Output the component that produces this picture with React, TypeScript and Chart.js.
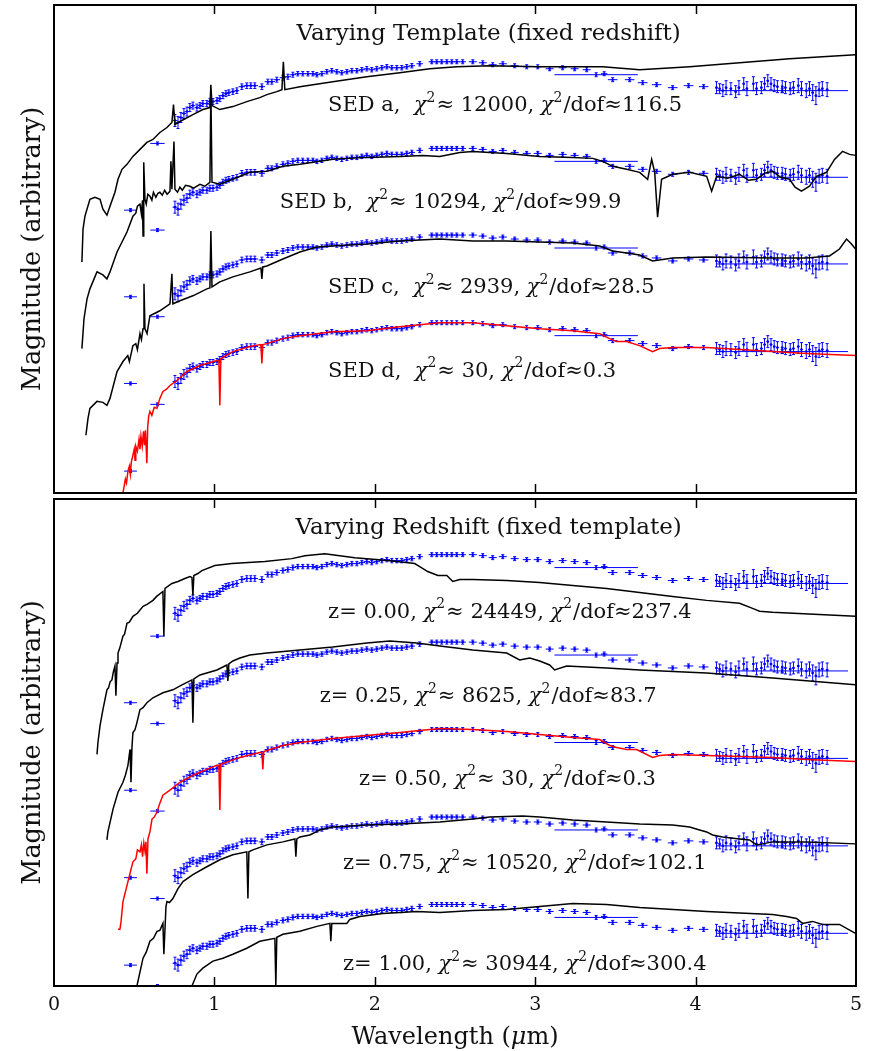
import React, { useEffect, useRef } from 'react';
import { Chart, registerables } from 'chart.js';

Chart.register(...registerables);

const FONT = '"DejaVu Serif", "Liberation Serif", serif';
const BLUE = '#0000ff';
const X_TICK_VALUES = [1, 2, 3, 4];

// Observed photometry: [wavelength (µm), relative magnitude, x error, y error]
const OBSERVED: number[][] = [
  [0.477, 15.0, 0.04, 0.15], [0.645, 8.3, 0.045, 0.15],
  [0.754, 6.0, 0.015, 0.6], [0.773, 6.2, 0.015, 0.6], [0.791, 5.7, 0.015, 0.5], [0.81, 5.3, 0.015, 0.5],
  [0.829, 5.1, 0.015, 0.45], [0.847, 4.7, 0.015, 0.4], [0.866, 4.5, 0.015, 0.35], [0.891, 4.7, 0.015, 0.35],
  [0.91, 4.5, 0.015, 0.3], [0.928, 4.3, 0.015, 0.3], [0.953, 4.3, 0.015, 0.3], [0.972, 4.1, 0.015, 0.3],
  [0.991, 4.1, 0.015, 0.3], [1.016, 4.0, 0.015, 0.3], [1.034, 3.8, 0.015, 0.3], [1.053, 3.5, 0.015, 0.3],
  [1.072, 3.3, 0.015, 0.3], [1.09, 3.2, 0.015, 0.28], [1.115, 3.1, 0.015, 0.28], [1.14, 3.0, 0.015, 0.28],
  [1.171, 2.6, 0.02, 0.28], [1.202, 2.5, 0.02, 0.28], [1.227, 2.5, 0.02, 0.28], [1.252, 2.5, 0.02, 0.28],
  [1.296, 2.6, 0.02, 0.28], [1.333, 2.1, 0.02, 0.25], [1.358, 2.1, 0.02, 0.25], [1.389, 1.9, 0.02, 0.25],
  [1.427, 1.7, 0.02, 0.25], [1.458, 1.6, 0.02, 0.25], [1.489, 1.4, 0.02, 0.25], [1.52, 1.3, 0.02, 0.22],
  [1.551, 1.3, 0.02, 0.22], [1.583, 1.3, 0.02, 0.22], [1.614, 1.3, 0.02, 0.22], [1.639, 1.4, 0.02, 0.22],
  [1.67, 1.3, 0.02, 0.22], [1.701, 1.1, 0.02, 0.22], [1.732, 1.0, 0.02, 0.22], [1.763, 1.1, 0.02, 0.22],
  [1.794, 1.2, 0.02, 0.22], [1.826, 1.1, 0.02, 0.22], [1.857, 1.0, 0.02, 0.22], [1.888, 1.0, 0.02, 0.22],
  [1.919, 0.9, 0.02, 0.22], [1.95, 0.8, 0.02, 0.22], [1.981, 0.9, 0.02, 0.22], [2.012, 0.8, 0.02, 0.22],
  [2.044, 0.7, 0.02, 0.22], [2.075, 0.6, 0.02, 0.22], [2.106, 0.7, 0.02, 0.22], [2.137, 0.7, 0.02, 0.22],
  [2.168, 0.7, 0.02, 0.22], [2.199, 0.6, 0.02, 0.22], [2.231, 0.5, 0.02, 0.22], [2.28, 0.3, 0.02, 0.22],
  [2.355, 0.1, 0.02, 0.2], [2.386, 0.1, 0.02, 0.2], [2.417, 0.1, 0.02, 0.2], [2.449, 0.1, 0.02, 0.2],
  [2.48, 0.1, 0.02, 0.2], [2.511, 0.1, 0.02, 0.2], [2.548, 0.1, 0.02, 0.2], [2.611, 0.1, 0.025, 0.2],
  [2.673, 0.2, 0.025, 0.2], [2.735, 0.4, 0.025, 0.2], [2.798, 0.3, 0.025, 0.2], [2.872, 0.5, 0.025, 0.2],
  [2.947, 0.6, 0.025, 0.2], [3.016, 0.6, 0.025, 0.2], [3.09, 0.8, 0.025, 0.2], [3.171, 0.7, 0.025, 0.2],
  [3.246, 0.8, 0.025, 0.2], [3.321, 0.9, 0.025, 0.2], [3.38, 1.4, 0.26, 0.2], [3.43, 1.3, 0.02, 0.2],
  [3.483, 1.9, 0.03, 0.2], [3.589, 1.9, 0.03, 0.2], [3.67, 2.2, 0.03, 0.2], [3.757, 2.4, 0.03, 0.2],
  [3.857, 2.7, 0.03, 0.2], [3.956, 2.5, 0.03, 0.2], [4.05, 2.6, 0.03, 0.2], [4.54, 3.0, 0.41, 0.2],
  [4.13, 2.7, 0.008, 0.6], [4.15, 2.8, 0.008, 0.5], [4.17, 3.0, 0.008, 0.6], [4.19, 2.7, 0.008, 0.7],
  [4.22, 2.8, 0.008, 0.6], [4.25, 3.1, 0.008, 0.6], [4.27, 2.7, 0.008, 0.7], [4.3, 2.3, 0.008, 0.6],
  [4.32, 2.8, 0.008, 0.7], [4.36, 2.3, 0.008, 0.7], [4.38, 2.8, 0.008, 0.6], [4.41, 2.7, 0.008, 0.6],
  [4.43, 2.3, 0.008, 0.6], [4.45, 2.0, 0.008, 0.6], [4.47, 2.3, 0.008, 0.6], [4.49, 2.5, 0.008, 0.6],
  [4.51, 2.6, 0.008, 0.6], [4.54, 2.6, 0.008, 0.6], [4.56, 2.7, 0.008, 0.6], [4.59, 2.8, 0.008, 0.6],
  [4.61, 2.7, 0.008, 0.6], [4.64, 2.5, 0.008, 0.7], [4.66, 2.8, 0.008, 0.7], [4.69, 3.0, 0.008, 0.7],
  [4.71, 2.8, 0.008, 0.7], [4.73, 3.2, 0.008, 0.8], [4.75, 3.5, 0.008, 0.9], [4.77, 2.9, 0.008, 0.7],
  [4.79, 2.8, 0.008, 0.7], [4.82, 2.9, 0.008, 0.7],
];

// Normalisation of the observed points for each template / redshift
const TOP_OFFSETS = [5.6, 14.3, 23.0, 31.8];
const BOTTOM_OFFSETS = [5.5, 14.3, 23.1, 31.9, 40.7];

// Model spectra: [wavelength (µm), magnitude]
const SED_A: number[][] = [
  [0.174, 25.8], [0.181, 22.5], [0.193, 21.2], [0.224, 19.5], [0.255, 19.3], [0.287, 19.5], [0.305, 20.5],
  [0.33, 21.1], [0.349, 20.2], [0.38, 18.8], [0.399, 17.5], [0.424, 16.5], [0.455, 16.0], [0.492, 15.2],
  [0.536, 14.5], [0.579, 13.8], [0.617, 13.5], [0.66, 12.8], [0.704, 12.3], [0.735, 11.8], [0.745, 10.0],
  [0.754, 12.0], [0.785, 11.7], [0.866, 11.0], [0.928, 10.5], [0.972, 10.3], [0.978, 8.0], [0.985, 10.1],
  [1.034, 10.5], [1.115, 10.2], [1.202, 9.7], [1.283, 9.3], [1.327, 9.0], [1.389, 8.7], [1.421, 8.5],
  [1.43, 5.7], [1.439, 8.5], [1.533, 8.2], [1.738, 7.7], [1.95, 7.2], [2.156, 6.8], [2.343, 6.4],
  [2.511, 6.2], [2.717, 6.1], [3.028, 6.2], [3.421, 6.2], [3.651, 6.5], [3.963, 6.2], [4.274, 5.8],
  [4.586, 5.4], [4.997, 5.0],
];
const SED_B: number[][] = [
  [0.174, 34.5], [0.187, 31.5], [0.206, 29.5], [0.224, 28.5], [0.268, 26.8], [0.305, 27.1], [0.33, 27.5],
  [0.349, 26.8], [0.393, 24.8], [0.424, 23.8], [0.455, 22.8], [0.492, 21.2], [0.51, 20.9], [0.52, 20.2],
  [0.536, 20.0], [0.545, 21.0], [0.552, 19.6], [0.555, 23.2], [0.558, 19.5], [0.561, 15.8], [0.567, 19.5],
  [0.575, 20.0], [0.585, 19.0], [0.598, 19.2], [0.61, 19.6], [0.62, 18.8], [0.635, 19.3], [0.648, 18.9],
  [0.66, 18.8], [0.675, 19.1], [0.69, 18.6], [0.705, 19.0], [0.723, 18.7], [0.729, 15.7], [0.735, 18.5],
  [0.748, 13.7], [0.754, 18.5], [0.77, 18.8], [0.785, 18.3], [0.8, 18.6], [0.82, 18.1], [0.847, 18.2],
  [0.87, 18.4], [0.91, 18.0], [0.94, 18.2], [0.972, 17.8], [0.978, 8.5], [0.985, 17.8], [1.034, 18.0],
  [1.115, 17.5], [1.221, 16.8], [1.327, 16.7], [1.427, 16.2], [1.533, 16.0], [1.657, 15.7], [1.738, 15.5],
  [1.95, 15.3], [2.156, 15.2], [2.299, 15.1], [2.405, 15.2], [2.53, 14.8], [2.611, 14.7], [2.822, 14.9],
  [3.028, 15.2], [3.234, 15.3], [3.358, 15.4], [3.421, 15.7], [3.483, 16.2], [3.57, 16.5], [3.651, 16.8],
  [3.701, 17.5], [3.726, 15.5], [3.745, 16.8], [3.763, 21.3], [3.788, 17.5], [3.857, 17.0], [3.963, 16.8],
  [4.069, 17.2], [4.1, 18.7], [4.131, 17.2], [4.2, 17.4], [4.274, 17.0], [4.33, 17.6], [4.38, 17.5],
  [4.43, 16.9], [4.48, 16.7], [4.53, 17.3], [4.586, 17.5], [4.62, 18.3], [4.66, 18.7], [4.71, 18.2],
  [4.754, 17.2], [4.816, 16.8], [4.866, 15.5], [4.916, 14.7], [4.96, 15.0], [4.997, 15.1],
];
const SED_C: number[][] = [
  [0.199, 43.2], [0.212, 41.5], [0.224, 40.5], [0.268, 39.8], [0.305, 39.9], [0.33, 40.2], [0.349, 39.5],
  [0.393, 36.8], [0.43, 35.8], [0.46, 35.2], [0.47, 35.8], [0.492, 34.2], [0.51, 34.0], [0.52, 34.6],
  [0.536, 33.0], [0.545, 33.6], [0.555, 32.5], [0.561, 28.0], [0.567, 32.5], [0.58, 33.0], [0.598, 31.2],
  [0.66, 30.7], [0.723, 30.0], [0.735, 27.0], [0.741, 30.0], [0.785, 29.7], [0.866, 29.2], [0.953, 28.5],
  [0.972, 28.4], [0.978, 22.7], [0.985, 28.3], [1.034, 27.8], [1.115, 27.3], [1.221, 26.8], [1.29, 26.4],
  [1.296, 27.5], [1.302, 26.3], [1.327, 26.2], [1.427, 25.5], [1.533, 24.8], [1.639, 24.3], [1.738, 24.2],
  [1.95, 24.0], [2.156, 23.7], [2.405, 23.5], [2.611, 23.7], [2.822, 23.7], [3.028, 23.8], [3.234, 23.9],
  [3.402, 24.2], [3.483, 24.7], [3.57, 24.9], [3.651, 25.1], [3.732, 25.7], [3.857, 25.4], [4.069, 25.3],
  [4.48, 25.4], [4.692, 25.4], [4.835, 25.2], [4.897, 24.5], [4.941, 23.5], [4.972, 24.0], [4.997, 24.5],
];
const SED_D: number[][] = [
  [0.43, 49.0], [0.445, 47.6], [0.452, 48.0], [0.461, 46.8], [0.47, 46.3], [0.476, 47.1], [0.482, 45.9],
  [0.492, 45.2], [0.5, 44.6], [0.505, 45.7], [0.51, 44.3], [0.52, 44.8], [0.53, 43.6], [0.536, 44.6],
  [0.542, 43.3], [0.55, 44.3], [0.558, 42.8], [0.564, 44.2], [0.57, 42.7], [0.579, 46.0], [0.584, 42.4],
  [0.59, 41.3], [0.598, 40.8], [0.61, 41.2], [0.625, 40.4], [0.642, 40.5], [0.66, 39.5], [0.679, 38.8],
  [0.7, 38.6], [0.723, 38.2], [0.766, 37.7], [0.829, 36.8], [0.91, 36.2], [1.016, 35.7], [1.028, 35.7],
  [1.034, 40.2], [1.04, 35.5], [1.115, 34.8], [1.221, 34.3], [1.29, 34.1], [1.296, 36.0], [1.302, 34.1],
  [1.327, 34.0], [1.427, 33.5], [1.533, 33.2], [1.738, 32.8], [1.95, 32.7], [2.156, 32.3], [2.405, 31.9],
  [2.611, 31.9], [2.822, 32.2], [3.028, 32.5], [3.234, 32.7], [3.402, 33.0], [3.464, 33.5], [3.508, 33.8],
  [3.57, 33.8], [3.651, 34.2], [3.732, 34.8], [3.776, 34.5], [3.857, 34.4], [4.069, 34.4], [4.274, 34.6],
  [4.48, 34.8], [4.692, 35.0], [4.997, 35.2],
];

const Z000: number[][] = [
  [0.268, 25.7], [0.274, 24.5], [0.287, 22.8], [0.305, 21.2], [0.33, 19.2], [0.34, 19.0], [0.35, 18.4],
  [0.361, 18.2], [0.37, 17.4], [0.38, 16.8], [0.386, 19.8], [0.393, 16.5], [0.399, 15.5], [0.41, 15.0],
  [0.43, 13.8], [0.44, 13.6], [0.455, 12.5], [0.47, 12.4], [0.492, 11.8], [0.52, 11.5], [0.555, 10.8],
  [0.58, 10.6], [0.617, 10.2], [0.64, 9.8], [0.679, 9.3], [0.685, 13.8], [0.692, 9.0], [0.735, 8.5],
  [0.773, 8.3], [0.816, 8.0], [0.847, 7.8], [0.86, 7.9], [0.866, 9.7], [0.872, 7.7], [0.897, 7.5],
  [0.922, 7.2], [1.003, 6.7], [1.109, 6.5], [1.315, 6.3], [1.483, 6.0], [1.564, 5.7], [1.688, 5.5],
  [1.875, 5.9], [2.081, 6.2], [2.249, 6.5], [2.28, 6.8], [2.33, 7.3], [2.393, 7.7], [2.449, 7.7],
  [2.486, 8.3], [2.53, 8.1], [2.611, 8.1], [2.822, 8.2], [3.028, 8.4], [3.234, 8.7], [3.445, 9.0],
  [3.651, 9.4], [3.857, 9.8], [4.069, 10.2], [4.274, 10.5], [4.355, 11.0], [4.399, 11.3], [4.48, 11.4],
  [4.997, 11.8],
];
const Z025: number[][] = [
  [0.33, 34.3], [0.336, 33.5], [0.368, 31.2], [0.399, 29.5], [0.43, 28.5], [0.445, 27.8], [0.461, 26.8],
  [0.474, 25.2], [0.48, 28.5], [0.486, 25.0], [0.492, 23.5], [0.505, 23.2], [0.517, 22.5], [0.536, 21.2],
  [0.555, 21.0], [0.579, 20.5], [0.617, 20.0], [0.679, 19.5], [0.741, 19.2], [0.798, 18.7], [0.86, 18.2],
  [0.866, 22.5], [0.872, 18.1], [0.91, 17.7], [1.016, 17.2], [1.078, 16.7], [1.084, 18.3], [1.09, 16.6],
  [1.115, 16.3], [1.159, 16.0], [1.221, 15.7], [1.327, 15.5], [1.533, 15.2], [1.738, 14.9], [1.95, 14.5],
  [2.093, 14.3], [2.262, 14.5], [2.405, 14.8], [2.611, 15.2], [2.822, 15.5], [2.903, 16.2], [2.966, 16.0],
  [3.028, 16.3], [3.09, 16.7], [3.121, 17.2], [3.196, 16.8], [3.445, 17.0], [3.651, 17.2], [4.069, 17.5],
  [4.48, 18.0], [4.997, 18.7],
];
const Z050: number[][] = [
  [0.399, 43.3], [0.411, 43.3], [0.418, 42.5], [0.43, 40.5], [0.461, 38.5], [0.492, 36.5], [0.51, 36.2],
  [0.52, 35.3], [0.536, 35.5], [0.545, 34.8], [0.552, 36.0], [0.56, 34.6], [0.567, 35.4], [0.573, 34.5],
  [0.579, 37.7], [0.586, 34.2], [0.598, 33.5], [0.611, 32.2], [0.625, 32.0], [0.642, 31.5], [0.66, 30.6],
  [0.679, 29.8], [0.723, 29.3], [0.785, 28.5], [0.866, 27.8], [0.953, 27.2], [1.016, 26.8], [1.028, 26.8],
  [1.034, 31.3], [1.04, 26.7], [1.159, 26.0], [1.283, 25.5], [1.296, 25.5], [1.302, 27.2], [1.308, 25.4],
  [1.327, 25.3], [1.427, 24.8], [1.533, 24.5], [1.738, 24.1], [1.95, 23.8], [2.156, 23.5], [2.405, 23.1],
  [2.611, 23.2], [2.822, 23.4], [3.028, 23.7], [3.234, 24.0], [3.402, 24.2], [3.464, 24.8], [3.508, 25.0],
  [3.57, 25.2], [3.632, 25.2], [3.732, 26.0], [3.776, 25.8], [3.857, 25.7], [4.069, 25.8], [4.274, 25.9],
  [4.48, 26.0], [4.692, 26.2], [4.997, 26.4],
];
const Z075: number[][] = [
  [0.517, 49.0], [0.555, 46.2], [0.575, 45.6], [0.598, 44.5], [0.62, 44.2], [0.642, 43.5], [0.66, 43.4],
  [0.679, 42.7], [0.685, 45.8], [0.698, 41.0], [0.704, 40.5], [0.72, 40.6], [0.741, 40.2], [0.773, 39.2],
  [0.804, 38.5], [0.866, 37.8], [0.953, 37.0], [1.034, 36.3], [1.115, 35.8], [1.202, 35.5], [1.209, 40.2],
  [1.215, 35.5], [1.24, 35.3], [1.327, 34.8], [1.427, 34.5], [1.502, 34.2], [1.508, 36.0], [1.514, 34.2],
  [1.533, 34.0], [1.595, 33.8], [1.657, 33.3], [1.738, 33.0], [1.95, 32.8], [2.156, 32.7], [2.405, 32.5],
  [2.611, 32.2], [2.717, 32.0], [2.922, 31.9], [3.028, 32.0], [3.234, 32.3], [3.445, 32.5], [3.651, 32.7],
  [3.857, 32.8], [3.963, 33.0], [4.025, 33.3], [4.069, 33.5], [4.106, 33.8], [4.168, 34.0], [4.274, 34.2],
  [4.336, 34.3], [4.38, 34.8], [4.417, 34.7], [4.48, 34.5], [4.692, 34.5], [4.997, 34.7],
];
const Z100: number[][] = [
  [0.86, 49.0], [0.891, 47.8], [0.928, 47.2], [0.991, 46.5], [1.053, 46.2], [1.115, 45.8], [1.202, 45.2],
  [1.283, 44.5], [1.377, 44.2], [1.383, 49.0], [1.389, 44.1], [1.427, 43.8], [1.533, 43.5], [1.639, 43.0],
  [1.72, 42.7], [1.726, 44.5], [1.732, 42.7], [1.826, 42.7], [1.844, 42.3], [1.907, 42.0], [2.05, 41.7],
  [2.262, 41.5], [2.405, 41.6], [2.611, 41.4], [2.822, 41.3], [3.028, 41.0], [3.234, 40.7], [3.445, 40.8],
  [3.651, 41.1], [4.069, 41.5], [4.48, 41.8], [4.567, 42.0], [4.629, 42.2], [4.667, 42.7], [4.729, 42.5],
  [4.791, 42.8], [4.897, 42.8], [4.997, 43.7],
];

const TOP_CURVES = [SED_A, SED_B, SED_C, SED_D];
const TOP_COLORS = ['#000000', '#000000', '#000000', '#ff0000'];
const BOTTOM_CURVES = [Z000, Z025, Z050, Z075, Z100];
const BOTTOM_COLORS = ['#000000', '#000000', '#ff0000', '#000000', '#000000'];

const TOP_TITLE = 'Varying Template (fixed redshift)';
const BOTTOM_TITLE = 'Varying Redshift (fixed template)';
const TOP_NAMES = ['SED a,  ', 'SED b,  ', 'SED c,  ', 'SED d,  '];
const TOP_CHI2 = ['12000', '10294', '2939', '30'];
const TOP_DOF = ['116.5', '99.9', '28.5', '0.3'];
const BOTTOM_NAMES = ['z= 0.00, ', 'z= 0.25, ', 'z= 0.50, ', 'z= 0.75, ', 'z= 1.00, '];
const BOTTOM_CHI2 = ['24449', '8625', '30', '10520', '30944'];
const BOTTOM_DOF = ['237.4', '83.7', '0.3', '102.1', '300.4'];

// label anchor (left, baseline) in data units
const TOP_LABEL_POS = [[1.709, 10.67], [1.408, 20.43], [1.709, 28.93], [1.709, 37.33]];
const BOTTOM_LABEL_POS = [[1.709, 11.93], [1.657, 20.43], [1.902, 28.77], [1.802, 37.27], [1.802, 47.43]];
const TITLE_POS = [2.71, 3.55];

type Seg = { t: string; it?: boolean; sup?: boolean };

const X_TITLE: Seg[] = [{ t: 'Wavelength (' }, { t: 'μ', it: true }, { t: 'm)' }];

function labelSegs(name: string, chi2: string, dof: string): Seg[] {
  return [
    { t: name },
    { t: 'χ', it: true },
    { t: '2', sup: true },
    { t: '≈ ' + chi2 + ', ' },
    { t: 'χ', it: true },
    { t: '2', sup: true },
    { t: '/dof≈' + dof },
  ];
}

function measureRich(ctx: CanvasRenderingContext2D, segs: Seg[], size: number) {
  let w = 0;
  for (const s of segs) {
    const fs = s.sup ? size * 0.66 : size;
    ctx.font = `${s.it ? 'italic ' : ''}${fs}px ${FONT}`;
    w += ctx.measureText(s.t).width + (s.sup ? 1 : 0);
  }
  return w;
}

function drawRich(ctx: CanvasRenderingContext2D, x: number, y: number, segs: Seg[], size: number) {
  let cx = x;
  for (const s of segs) {
    const fs = s.sup ? size * 0.66 : size;
    ctx.font = `${s.it ? 'italic ' : ''}${fs}px ${FONT}`;
    const yy = s.sup ? y - size * 0.45 : y;
    ctx.fillText(s.t, cx, yy);
    cx += ctx.measureText(s.t).width + (s.sup ? 1 : 0);
  }
}

function makeDecor(title: string, labels: { segs: Seg[]; pos: number[] }[], withXTitle: boolean) {
  return {
    id: 'decor',
    beforeDatasetsDraw(chart: any) {
      const { ctx, chartArea: ca, scales } = chart;
      const xs = scales.x;
      const ys = scales.y;
      ctx.save();
      ctx.beginPath();
      ctx.rect(ca.left, ca.top, ca.right - ca.left, ca.bottom - ca.top);
      ctx.clip();
      ctx.strokeStyle = BLUE;
      ctx.lineWidth = 1;
      chart.data.datasets.forEach((ds: any) => {
        if (!ds.obs) return;
        ds.data.forEach((p: any) => {
          const px = xs.getPixelForValue(p.x);
          const py = ys.getPixelForValue(p.y);
          const x0 = xs.getPixelForValue(p.x - p.xerr);
          const x1 = xs.getPixelForValue(p.x + p.xerr);
          const y0 = ys.getPixelForValue(p.y - p.yerr);
          const y1 = ys.getPixelForValue(p.y + p.yerr);
          ctx.beginPath();
          ctx.moveTo(x0, py);
          ctx.lineTo(x1, py);
          ctx.moveTo(px, y0);
          ctx.lineTo(px, y1);
          ctx.moveTo(px - 1.5, y0);
          ctx.lineTo(px + 1.5, y0);
          ctx.moveTo(px - 1.5, y1);
          ctx.lineTo(px + 1.5, y1);
          ctx.stroke();
        });
      });
      ctx.restore();
    },
    afterDatasetsDraw(chart: any) {
      const { ctx, chartArea: ca, scales } = chart;
      const xs = scales.x;
      const ys = scales.y;
      ctx.save();
      ctx.strokeStyle = '#000';
      ctx.lineWidth = 1.5;
      ctx.beginPath();
      X_TICK_VALUES.forEach((v) => {
        const px = Math.round(xs.getPixelForValue(v)) + 0.5;
        ctx.moveTo(px, ca.top);
        ctx.lineTo(px, ca.top + 9);
        ctx.moveTo(px, ca.bottom);
        ctx.lineTo(px, ca.bottom - 9);
      });
      ctx.stroke();
      ctx.lineWidth = 2;
      ctx.strokeRect(ca.left, ca.top, ca.right - ca.left, ca.bottom - ca.top);

      ctx.fillStyle = '#111';
      ctx.textBaseline = 'alphabetic';
      ctx.textAlign = 'center';
      ctx.font = `23px ${FONT}`;
      ctx.fillText(title, xs.getPixelForValue(TITLE_POS[0]), ys.getPixelForValue(TITLE_POS[1]));
      ctx.textAlign = 'left';
      labels.forEach((l) => {
        drawRich(ctx, xs.getPixelForValue(l.pos[0]), ys.getPixelForValue(l.pos[1]), l.segs, 21);
      });
      if (withXTitle) {
        const w = measureRich(ctx, X_TITLE, 24);
        drawRich(ctx, (ca.left + ca.right) / 2 - w / 2, ca.bottom + 58, X_TITLE, 24);
      }
      ctx.restore();
    },
  };
}

function buildDatasets(curves: number[][][], colors: string[], offsets: number[]) {
  const ds: any[] = [];
  offsets.forEach((off) => {
    ds.push({
      obs: true,
      data: OBSERVED.map((o) => ({ x: o[0], y: o[1] + off, xerr: o[2], yerr: o[3] })),
      showLine: false,
      pointRadius: 1.3,
      pointBorderWidth: 0,
      pointBackgroundColor: BLUE,
      order: 10,
    });
  });
  curves.forEach((c, i) => {
    ds.push({
      data: c.map((p) => ({ x: p[0], y: p[1] })),
      showLine: true,
      borderColor: colors[i],
      borderWidth: 1.5,
      pointRadius: 0,
      tension: 0,
      fill: false,
      order: 1,
    });
  });
  return ds;
}

function yAxis() {
  return {
    type: 'linear' as const,
    min: 0,
    max: 49,
    reverse: true,
    display: true,
    ticks: { display: false },
    grid: { display: false },
    border: { display: false },
    title: {
      display: true,
      text: 'Magnitude (arbitrary)',
      color: '#111',
      font: { family: FONT, size: 25.5 },
      padding: { top: 18, bottom: 0 },
    },
    afterFit: (s: any) => {
      s.width = 54;
    },
  };
}

export default function App() {
  const topRef = useRef<HTMLCanvasElement>(null);
  const botRef = useRef<HTMLCanvasElement>(null);

  useEffect(() => {
    const topLabels = TOP_NAMES.map((n, i) => ({ segs: labelSegs(n, TOP_CHI2[i], TOP_DOF[i]), pos: TOP_LABEL_POS[i] }));
    const botLabels = BOTTOM_NAMES.map((n, i) => ({
      segs: labelSegs(n, BOTTOM_CHI2[i], BOTTOM_DOF[i]),
      pos: BOTTOM_LABEL_POS[i],
    }));

    const top = new Chart(topRef.current!, {
      type: 'scatter',
      data: { datasets: buildDatasets(TOP_CURVES, TOP_COLORS, TOP_OFFSETS) },
      options: {
        responsive: false,
        animation: false,
        events: [],
        layout: { padding: { top: 5, right: 27, bottom: 2, left: 0 } },
        plugins: { legend: { display: false }, tooltip: { enabled: false } },
        scales: {
          x: { type: 'linear', min: 0, max: 5, display: false },
          y: yAxis() as any,
        },
      },
      plugins: [makeDecor(TOP_TITLE, topLabels, false)],
    });

    const bottom = new Chart(botRef.current!, {
      type: 'scatter',
      data: { datasets: buildDatasets(BOTTOM_CURVES, BOTTOM_COLORS, BOTTOM_OFFSETS) },
      options: {
        responsive: false,
        animation: false,
        events: [],
        layout: { padding: { top: 0, right: 27, bottom: 0, left: 0 } },
        plugins: { legend: { display: false }, tooltip: { enabled: false } },
        scales: {
          x: {
            type: 'linear',
            min: 0,
            max: 5,
            display: true,
            grid: { display: false },
            border: { display: false },
            ticks: {
              stepSize: 1,
              padding: 0,
              color: '#111',
              font: { family: FONT, size: 19 },
              callback: (v: any) => String(v),
            },
            title: { display: false },
            afterFit: (s: any) => {
              s.height = 65;
            },
          },
          y: yAxis() as any,
        },
      },
      plugins: [makeDecor(BOTTOM_TITLE, botLabels, true)],
    });

    return () => {
      top.destroy();
      bottom.destroy();
    };
  }, []);

  return (
    <div style={{ position: 'absolute', left: 0, top: 0, width: 883, height: 1051, background: '#fff' }}>
      <canvas ref={topRef} width={883} height={497} style={{ position: 'absolute', left: 0, top: 0, display: 'block' }} />
      <canvas ref={botRef} width={883} height={556} style={{ position: 'absolute', left: 0, top: 495, display: 'block' }} />
    </div>
  );
}
